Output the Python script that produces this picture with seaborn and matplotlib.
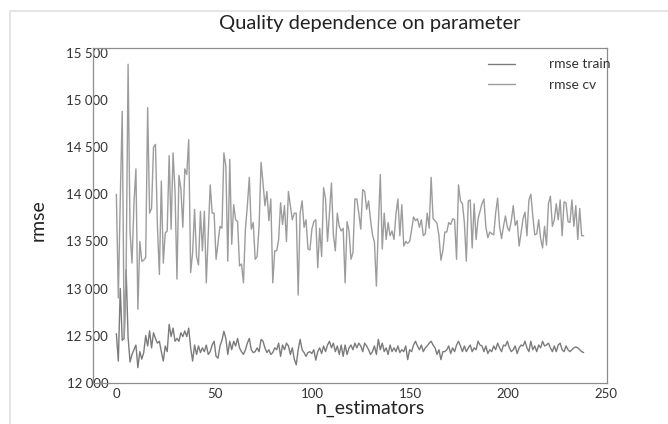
import matplotlib
matplotlib.use("Agg")
import matplotlib.pyplot as plt
import matplotlib.transforms as mtransforms
from matplotlib.patches import Rectangle
import seaborn as sns

# n_estimators 10..249, values
n_estimators = list(range(10, 250))

rmse_train = [
    12520, 12230, 13000, 12450, 12470, 13200, 12480, 12220, 12300, 12350,
    12400, 12160, 12330, 12250, 12320, 12500, 12390, 12550, 12370, 12530,
    12470, 12420, 12440, 12330, 12230, 12390, 12330, 12620, 12490, 12580,
    12440, 12470, 12440, 12530, 12490, 12550, 12490, 12580, 12370, 12230,
    12400, 12300, 12390, 12320, 12370, 12330, 12400, 12300, 12330, 12400,
    12440, 12280, 12260, 12390, 12450, 12546, 12470, 12300, 12440, 12350,
    12440, 12390, 12470, 12370, 12330, 12300, 12350, 12420, 12470, 12350,
    12320, 12330, 12370, 12330, 12460, 12440, 12370, 12320, 12350, 12300,
    12320, 12370, 12350, 12420, 12280, 12400, 12350, 12420, 12390, 12300,
    12370, 12250, 12190, 12350, 12460, 12350, 12320, 12280, 12320, 12330,
    12310, 12350, 12240, 12330, 12370, 12310, 12390, 12330, 12400, 12440,
    12370, 12420, 12330, 12390, 12300, 12400, 12280, 12400, 12300, 12370,
    12400, 12350, 12420, 12370, 12420, 12390, 12330, 12420, 12390, 12350,
    12300, 12330, 12390, 12300, 12460, 12350, 12420, 12330, 12370, 12300,
    12400, 12330, 12370, 12330, 12390, 12320, 12350, 12330, 12390, 12245,
    12350, 12330, 12400, 12440, 12390, 12350, 12400, 12330, 12370, 12390,
    12420, 12440, 12400, 12370, 12300, 12350, 12245, 12330, 12330, 12350,
    12390, 12310, 12370, 12330, 12400, 12440, 12390, 12330, 12390, 12330,
    12370, 12400, 12330, 12370, 12350, 12440, 12400, 12390, 12330, 12390,
    12310, 12350, 12330, 12390, 12350, 12420, 12370, 12330, 12400, 12390,
    12440, 12370, 12330, 12350, 12390, 12310, 12370, 12400, 12390, 12440,
    12370, 12330, 12440, 12350, 12390, 12330, 12400, 12370, 12440, 12390,
    12400, 12420, 12370, 12330, 12390, 12330, 12400, 12420, 12350, 12330,
    12390, 12350, 12330, 12350, 12370, 12380, 12370, 12350, 12330, 12320,
]

rmse_cv = [
    14000, 12900, 13950, 14880, 12480, 13200, 15380, 13600, 13270, 13900,
    14270, 12780, 13500, 13290, 13300, 13330, 14920, 13800, 13850, 14500,
    14530, 13660, 13150, 14140, 13270, 13590, 13610, 14410, 13630, 14440,
    14030, 13100, 14200, 14060, 13650, 14270, 14210, 14580, 13170, 13380,
    13840, 13340, 13250, 13820, 13400, 13820, 13060, 13590, 14100, 13800,
    13800, 13310, 13490, 13660, 13640, 14440, 14300, 13290, 14370, 13470,
    13890, 13730, 13710, 13240, 13260, 13060, 13630, 13880, 14180, 13630,
    13700, 13310, 13340, 13660, 14340, 14120, 13880, 14030, 13720, 13950,
    13060, 13400, 13400, 13520, 13910, 13680, 13880, 13500, 14030, 13880,
    13730, 13800, 13800, 12930, 13800, 13930, 13650, 13730, 13420, 13410,
    13630, 13710, 13730, 13220, 13640, 13340, 14070, 13950, 13500, 13800,
    14120, 13570, 13400, 13800, 13660, 13610, 13640, 13060, 13710, 13610,
    13310, 13380, 13950, 13950, 13800, 13630, 14050, 14030, 13840, 13930,
    13730, 13570, 13490, 13025, 13660, 14210, 13420, 13800, 13520, 13700,
    13560, 13610, 13520, 13790, 13950, 13560, 13890, 13450, 13500, 13480,
    13500, 13620, 13760, 13720, 13740, 13650, 13730, 13560, 13580, 13800,
    13640, 14180, 13740, 13720, 13690, 13560, 13300, 13400, 13600, 13600,
    13700, 13680, 13740, 13730, 13310, 14100, 13930, 13900, 13700, 13290,
    13930, 13940, 13430, 13900, 13520, 13740, 13820, 13900, 13950, 13650,
    13540, 13600, 13580, 13570, 13800, 13960, 13660, 13530, 13660, 13770,
    13650, 13610, 13720, 13880, 13670, 13720, 13450, 13590, 13740, 13810,
    13560, 13940, 14000, 13770, 13570, 13580, 13730, 13530, 13430, 13660,
    13460, 13900, 13980, 13660, 13730, 13900, 13730, 13940, 13560, 13920,
    13910, 13710, 13700, 13940, 13660, 13880, 13520, 13850, 13560, 13560,
]

x_ticks = [0, 50, 100, 150, 200, 250]
y_ticks = [12000, 12500, 13000, 13500, 14000, 14500, 15000, 15500]
y_tick_labels = ["12 000", "12 500", "13 000", "13 500", "14 000", "14 500", "15 000", "15 500"]

sns.set_style("white")
plt.rcParams["font.family"] = ["Lato", "DejaVu Sans"]

fig = plt.figure(figsize=(6.68, 4.24), dpi=100)
ax = fig.add_axes([93/668, 1 - 383/424, 514/668, 335/424])

sns.lineplot(x=n_estimators, y=rmse_train, ax=ax, color="#7b7b7b",
             linewidth=1.0, label="rmse train")
sns.lineplot(x=n_estimators, y=rmse_cv, ax=ax, color="#9c9c9c",
             linewidth=1.0, label="rmse cv")

ax.set_xlim(-1.95, 260.95)
ax.set_ylim(11997, 15553)
ax.set_xticks(x_ticks)
ax.set_xticklabels([str(t) for t in x_ticks])
ax.set_yticks(y_ticks)
ax.set_yticklabels(y_tick_labels)

ax.tick_params(axis="x", length=2, width=0.8, color="#8c8c8c", pad=1.5,
               labelsize=9.5, labelcolor="#333333", direction="out")
ax.tick_params(axis="y", length=0, pad=3.5, labelsize=9.5, labelcolor="#333333")
for s in ax.spines.values():
    s.set_color("#8c8c8c")
    s.set_linewidth(0.9)

# the text in the reference sits ~20px right of where the axis puts it
shift = mtransforms.ScaledTranslation(0.20, 0, fig.dpi_scale_trans)
for lab in ax.get_xticklabels() + ax.get_yticklabels():
    lab.set_transform(lab.get_transform() + shift)

ax.set_title("Quality dependence on parameter", fontsize=14.5, color="#222222",
             x=0.5 + 20/514, y=(383 - 23)/335, va="center", pad=0)
ax.set_xlabel("n_estimators", fontsize=14, color="#222222", va="center")
ax.xaxis.set_label_coords(0.5 + 20/514, (383 - 408)/335)
ax.set_ylabel("rmse", fontsize=14, color="#222222", va="center")
ax.yaxis.set_label_coords((38 - 93)/514, (383 - 220)/335)

leg = ax.legend(loc="upper left", bbox_to_anchor=((475 - 93)/514, (383 - 46)/335),
                frameon=False, fontsize=10, handlelength=2.0,
                handletextpad=2.4, labelspacing=0.6)
for t in leg.get_texts():
    t.set_color("#333333")

# light frame around the figure, cut off at right and bottom
fig.patches.append(Rectangle((10/668, -0.2), 1.5, 1.2 - 11/424,
                             transform=fig.transFigure, fill=False,
                             edgecolor="#e0e0e0", linewidth=1.2))

fig.savefig("out.png", dpi=100)
